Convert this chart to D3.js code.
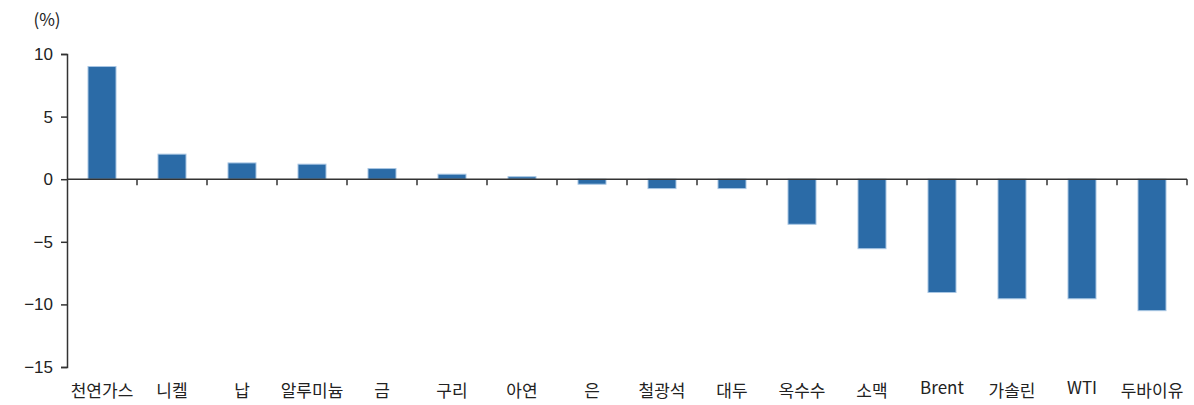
<!DOCTYPE html>
<html>
<head>
<meta charset="utf-8">
<script src="https://cdn.jsdelivr.net/npm/d3@7"></script>
<style>
  body { margin: 0; background: #fff; }
  svg { display: block; font-family: "Noto Sans CJK KR", "Noto Sans", sans-serif; }
</style>
</head>
<body>
<div id="chart"></div>
<script>
const categories = ['천연가스', '니켈', '납', '알루미늄', '금', '구리', '아연', '은', '철광석', '대두', '옥수수', '소맥', 'Brent', '가솔린', 'WTI', '두바이유'];
const values = [9.0, 2.0, 1.3, 1.2, 0.85, 0.4, 0.2, -0.4, -0.75, -0.75, -3.6, -5.55, -9.05, -9.55, -9.55, -10.5];
const yTicks = [10, 5, 0, -5, -10, -15];

const width = 1194;
const height = 405;
const margin = { top: 54, right: 7, bottom: 38, left: 67 };

const svg = d3.select('#chart')
  .append('svg')
  .attr('width', width)
  .attr('height', height);

const x = d3.scaleBand()
  .domain(categories)
  .range([margin.left, width - margin.right])
  .paddingInner(0.6)
  .paddingOuter(0.3);

const y = d3.scaleLinear()
  .domain([-15, 10])
  .range([height - margin.bottom, margin.top]);

const step = x.step();
const axisColor = '#333';

// y axis
const yAxis = svg.append('g')
  .attr('transform', `translate(${margin.left},0)`)
  .call(d3.axisLeft(y)
    .tickValues(yTicks)
    .tickSize(6)
    .tickPadding(8)
    .tickFormat(d => d < 0 ? '\u2212' + Math.abs(d) : d));

yAxis.select('.domain').attr('stroke', axisColor).attr('stroke-width', 1.5);
yAxis.selectAll('.tick line').attr('stroke', axisColor).attr('stroke-width', 1.5);
yAxis.selectAll('text')
  .attr('fill', '#222')
  .attr('font-size', '17px');

svg.append('text')
  .attr('x', 47)
  .attr('y', 26)
  .attr('text-anchor', 'middle')
  .attr('fill', '#222')
  .attr('font-size', '17px')
  .text('(%)');

// bars
svg.selectAll('.bar')
  .data(categories)
  .join('rect')
  .attr('class', 'bar')
  .attr('x', d => x(d))
  .attr('width', x.bandwidth())
  .attr('y', (d, i) => y(Math.max(0, values[i])))
  .attr('height', (d, i) => Math.abs(y(values[i]) - y(0)))
  .attr('fill', '#2b6ba7')
  .attr('stroke', '#a8c6e3')
  .attr('stroke-width', 1);

// zero line + ticks between categories
const y0 = y(0);
svg.append('line')
  .attr('x1', margin.left)
  .attr('x2', width - margin.right)
  .attr('y1', y0)
  .attr('y2', y0)
  .attr('stroke', axisColor)
  .attr('stroke-width', 1.5);

const boundaries = categories.map((d, i) => margin.left + step * (i + 1));
svg.selectAll('.xtick')
  .data(boundaries)
  .join('line')
  .attr('x1', d => d)
  .attr('x2', d => d)
  .attr('y1', y0)
  .attr('y2', y0 + 6)
  .attr('stroke', axisColor)
  .attr('stroke-width', 1.5);

// category labels
svg.selectAll('.cat-label')
  .data(categories)
  .join('text')
  .attr('x', d => x(d) + x.bandwidth() / 2)
  .attr('y', d => /^[A-Za-z]/.test(d) ? 394 : 397)
  .attr('text-anchor', 'middle')
  .attr('fill', '#222')
  .attr('font-size', '17px')
  .text(d => d);
</script>
</body>
</html>
